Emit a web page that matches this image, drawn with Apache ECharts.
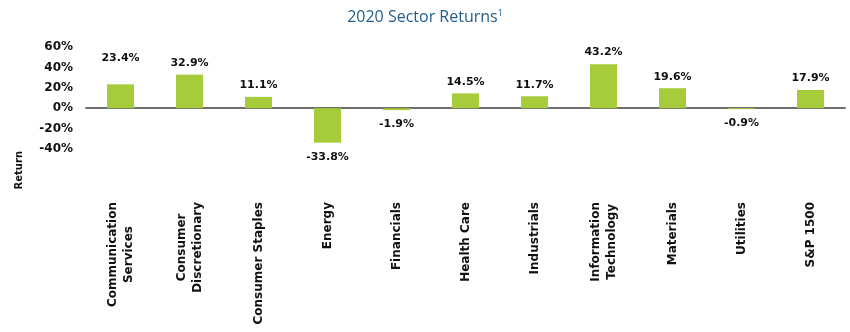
<!DOCTYPE html>
<html>
<head>
<meta charset="utf-8">
<script src="https://cdn.jsdelivr.net/npm/echarts@6/dist/echarts.min.js"></script>
<style>html,body{margin:0;padding:0;background:#fff}#c{width:850px;height:332px}</style>
</head>
<body>
<div id="c"></div>
<script>
const categories = ['Communication\nServices','Consumer\nDiscretionary','Consumer Staples','Energy','Financials','Health Care','Industrials','Information\nTechnology','Materials','Utilities','S&P 1500'];
const returns = [23.4, 32.9, 11.1, -33.8, -1.9, 14.5, 11.7, 43.2, 19.6, -0.9, 17.9];
const yTicks = [-40, -20, 0, 20, 40, 60];

const font = '"DejaVu Sans", sans-serif';
const chart = echarts.init(document.getElementById('c'));
const seriesData = returns.map((v, i) => {
  const item = { value: v };
  if (v < 0) item.label = { position: 'bottom', distance: 9 };
  if (i === 0) item.label = { position: 'top', distance: 21 };
  return item;
});
chart.setOption({
  animation: false,
  title: {
    text: '2020 Sector Returns{s|1}',
    left: 'center', top: 4,
    textStyle: { color: '#1f5d8c', fontSize: 16, fontWeight: 'normal', fontFamily: '"Open Sans", sans-serif',
      rich: { s: { fontSize: 9, verticalAlign: 'top', color: '#1f5d8c', padding: [0,0,8,0] } } }
  },
  graphic: [{
    type: 'text', left: 14, top: 151, rotation: Math.PI / 2,
    style: { text: 'Return', font: 'bold 10px ' + font, fill: '#111' }
  }],
  grid: { left: 86, right: 5, top: 47, bottom: 183, containLabel: false, outerBoundsMode: 'none' },
  xAxis: {
    type: 'category', data: categories,
    axisLine: { onZero: true, lineStyle: { color: '#6e6e6e', width: 2 } },
    axisTick: { show: false },
    axisLabel: {
      rotate: 90, interval: 0, margin: 53,
      formatter: v => v.split('\n').map(s => '{c|' + s + '}').join('\n'),
      rich: { c: { align: 'center', fontFamily: font, fontWeight: 'bold', fontSize: 12, color: '#111', lineHeight: 16 } }
    }
  },
  yAxis: {
    type: 'value', min: -40, max: 60, interval: 20,
    axisLine: { show: false }, axisTick: { show: false }, splitLine: { show: false },
    axisLabel: {
      margin: 13, fontFamily: font, fontWeight: 'bold', fontSize: 12, color: '#111',
      formatter: v => yTicks.includes(v) ? v + '%' : ''
    }
  },
  series: [{
    type: 'bar', data: seriesData, barWidth: 27,
    itemStyle: { color: '#a6cb3b' },
    label: {
      show: true, position: 'top', distance: 6,
      formatter: p => p.value.toFixed(1) + '%',
      fontFamily: font, fontWeight: 'bold', fontSize: 11, color: '#111'
    }
  }]
});
</script>
</body>
</html>
